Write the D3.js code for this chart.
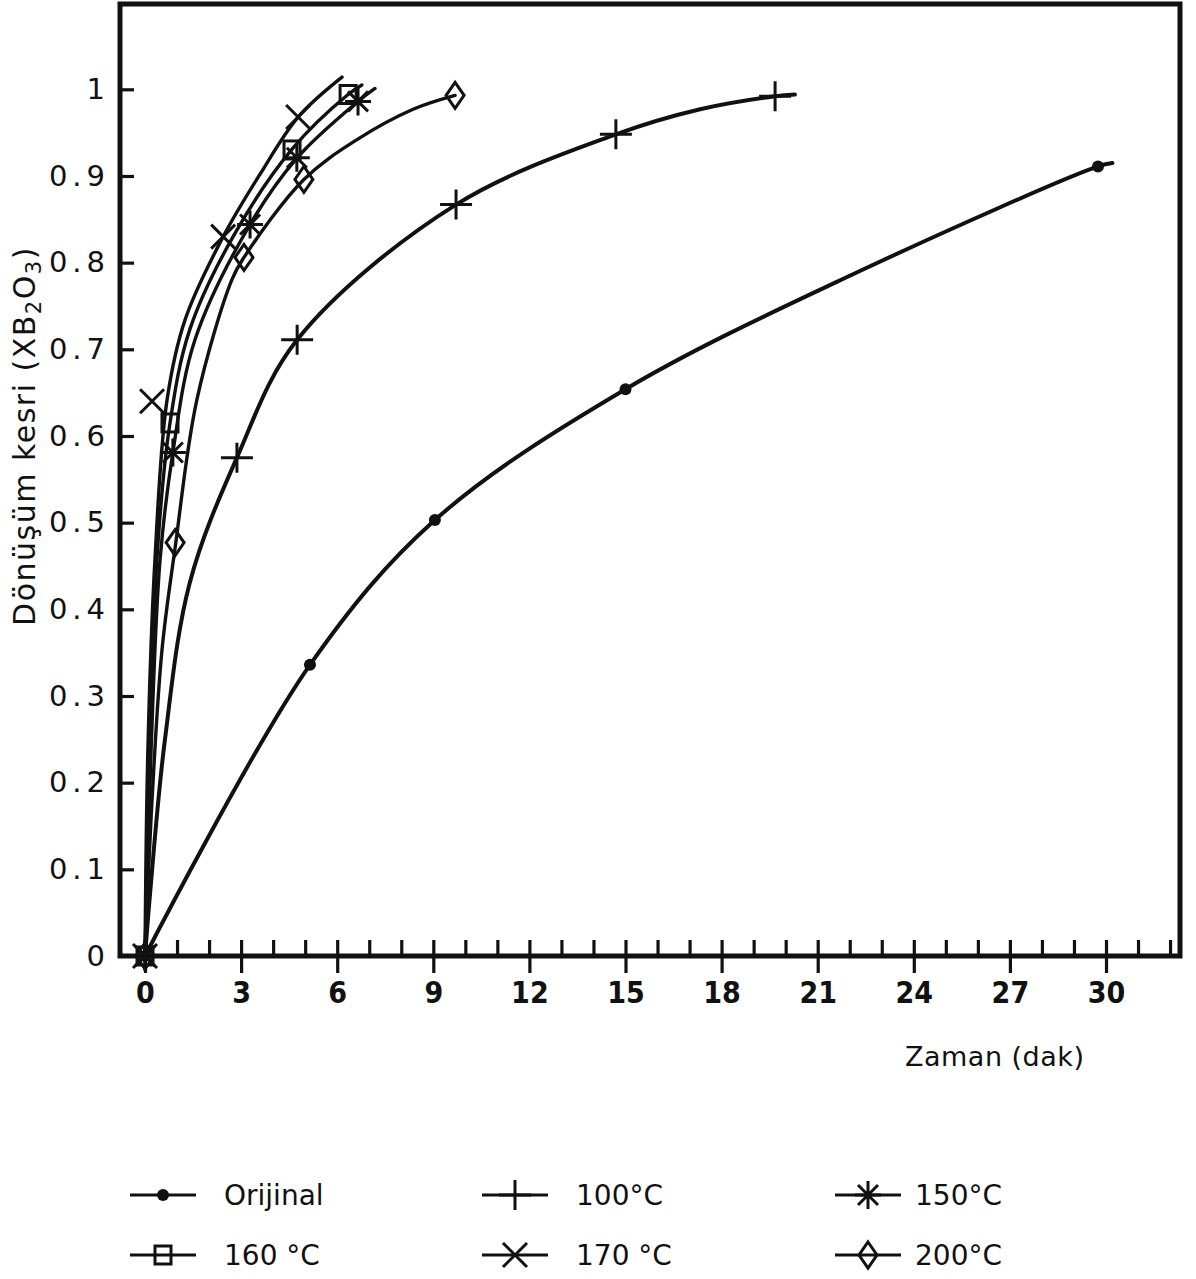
<!DOCTYPE html>
<html>
<head>
<meta charset="utf-8">
<script src="https://cdn.jsdelivr.net/npm/d3@7"></script>
<style>
  body { margin: 0; background: #fff; }
  svg { display: block; }
  text { fill: #111; }
</style>
</head>
<body>
<svg id="chart" width="1196" height="1279"></svg>
<script>
// series (legend order)
const seriesNames = ["Orijinal", "100°C", "150°C", "160 °C", "170 °C", "200°C"];
const markerTypes = ["dot", "plus", "star", "square", "cross", "diamond"];

// measured points: time (dak) / conversion fraction
const tOrijinal = [0, 5.15, 9.05, 15.0, 29.75];
const xOrijinal = [0, 0.336, 0.503, 0.654, 0.911];
const t100 = [0, 2.87, 4.75, 9.71, 14.7, 19.67];
const x100 = [0, 0.575, 0.711, 0.867, 0.948, 0.992];
const t150 = [0, 0.87, 3.28, 4.74, 6.65];
const x150 = [0, 0.581, 0.844, 0.921, 0.986];
const t160 = [0, 0.78, 4.59, 6.34];
const x160 = [0, 0.615, 0.93, 0.994];
const t170 = [0, 0.22, 2.44, 4.78];
const x170 = [0, 0.64, 0.83, 0.968];
const t200 = [0, 0.94, 3.09, 4.96, 9.68];
const x200 = [0, 0.477, 0.806, 0.896, 0.993];

// hand-drawn curves
const cOrijinalT = [0, 5.15, 9.05, 15.0, 22.3, 29.75, 30.2];
const cOrijinalX = [0, 0.336, 0.503, 0.654, 0.79, 0.911, 0.915];
const c100T = [0, 0.16, 0.62, 1.4, 2.87, 4.75, 9.71, 14.7, 17.33, 19.67, 20.29];
const c100X = [0, 0.073, 0.249, 0.431, 0.575, 0.711, 0.867, 0.948, 0.977, 0.992, 0.994];
const c150T = [0, 0.19, 0.47, 0.87, 1.56, 3.28, 4.75, 6.65, 7.18];
const c150X = [0, 0.238, 0.457, 0.581, 0.711, 0.844, 0.921, 0.986, 1.001];
const c160T = [0, 0.16, 0.37, 0.78, 1.4, 2.75, 4.59, 6.34, 6.77];
const c160X = [0, 0.238, 0.457, 0.615, 0.723, 0.83, 0.931, 0.994, 1.005];
const c170T = [0, 0.09, 0.31, 0.69, 1.25, 2.44, 3.59, 4.78, 6.15];
const c170X = [0, 0.238, 0.457, 0.642, 0.734, 0.83, 0.902, 0.968, 1.014];
const c200T = [0, 0.22, 0.53, 0.94, 1.62, 2.72, 3.09, 4.96, 6.62, 8.37, 9.68];
const c200X = [0, 0.18, 0.353, 0.471, 0.642, 0.781, 0.806, 0.896, 0.942, 0.977, 0.993];

const yTicks = [0, 0.1, 0.2, 0.3, 0.4, 0.5, 0.6, 0.7, 0.8, 0.9, 1];
const xMajorTicks = [0, 3, 6, 9, 12, 15, 18, 21, 24, 27, 30];

const pointsT = [tOrijinal, t100, t150, t160, t170, t200];
const pointsX = [xOrijinal, x100, x150, x160, x170, x200];
const curvesT = [cOrijinalT, c100T, c150T, c160T, c170T, c200T];
const curvesX = [cOrijinalX, c100X, c150X, c160X, c170X, c200X];

const svg = d3.select("#chart");
const ink = "#111";

const x = d3.scaleLinear().domain([0, 30]).range([145, 1106]);
const y = d3.scaleLinear().domain([0, 1]).range([956, 89.3]);

// frame
svg.append("rect")
  .attr("x", 120).attr("y", 4)
  .attr("width", 1060).attr("height", 952)
  .attr("fill", "none").attr("stroke", ink).attr("stroke-width", 5);

// x axis: minor ticks above, major ticks crossing
const minor = svg.append("g")
  .attr("transform", "translate(0,956)")
  .call(d3.axisTop(x).tickValues(d3.range(0, 33)).tickSize(16).tickFormat(""));
const major = svg.append("g")
  .attr("transform", "translate(0,956)")
  .call(d3.axisBottom(x).tickValues(xMajorTicks).tickSize(17).tickPadding(9));
[minor, major].forEach(g => {
  g.select(".domain").remove();
  g.selectAll("line").attr("stroke", ink).attr("stroke-width", 3.2);
});
major.selectAll("text")
  .attr("fill", ink)
  .style("font-family", "'DejaVu Sans Condensed', 'DejaVu Sans', sans-serif")
  .style("font-stretch", "condensed")
  .style("font-weight", "bold")
  .style("font-size", "30px");

// y axis: ticks inward, labels left
const yTickG = svg.append("g")
  .attr("transform", "translate(120,0)")
  .call(d3.axisRight(y).tickValues(yTicks.slice(1)).tickSize(14).tickFormat(""));
yTickG.select(".domain").remove();
yTickG.selectAll("line").attr("stroke", ink).attr("stroke-width", 3.2);

const yLab = svg.append("g")
  .attr("transform", "translate(110,0)")
  .call(d3.axisLeft(y).tickValues(yTicks).tickSize(0).tickPadding(0)
    .tickFormat(d => d === 0 ? "0" : d === 1 ? "1" : d3.format(".1f")(d)));
yLab.select(".domain").remove();
yLab.selectAll("text")
  .attr("fill", ink)
  .style("font-family", "'DejaVu Sans', sans-serif")
  .style("font-size", "29px")
  .style("letter-spacing", "5px");

// axis titles
svg.append("text")
  .attr("x", 905).attr("y", 1066)
  .style("font-family", "'DejaVu Sans', sans-serif")
  .style("font-size", "27px")
  .style("letter-spacing", "0.5px")
  .text("Zaman (dak)");

const yTitle = svg.append("text")
  .attr("transform", "translate(35,436) rotate(-90)")
  .attr("text-anchor", "middle")
  .style("font-family", "'DejaVu Sans', sans-serif")
  .style("font-size", "30px")
  .style("letter-spacing", "1.5px");
yTitle.append("tspan").text("Dönüşüm  kesri (XB");
yTitle.append("tspan").attr("baseline-shift", "-30%").style("font-size", "21px").text("2");
yTitle.append("tspan").text("O");
yTitle.append("tspan").attr("baseline-shift", "-30%").style("font-size", "21px").text("3");
yTitle.append("tspan").text(")");

// marker drawing
function drawMarker(g, type, cx, cy) {
  const m = g.append("g").attr("transform", `translate(${cx},${cy})`);
  const st = sel => sel.attr("fill", "none").attr("stroke", ink).attr("stroke-width", 3);
  if (type === "dot") {
    m.append("circle").attr("r", 6).attr("fill", ink);
  } else if (type === "plus") {
    st(m.append("path").attr("d", "M-16,0H16M0,-15V15"));
  } else if (type === "star") {
    st(m.append("path").attr("d", "M-13,0H13M0,-14V14M-10,-10L10,10M-10,10L10,-10"));
  } else if (type === "square") {
    st(m.append("rect").attr("x", -8).attr("y", -9).attr("width", 16).attr("height", 18).attr("fill", "#fff"));
  } else if (type === "cross") {
    st(m.append("path").attr("d", "M-12,-12L12,12M-12,12L12,-12"));
  } else if (type === "diamond") {
    st(m.append("path").attr("d", "M0,-13L9,0L0,13L-9,0Z").attr("fill", "#fff"));
  }
}

const line = d3.line()
  .x(d => x(d[0]))
  .y(d => y(d[1]))
  .curve(d3.curveCatmullRom.alpha(0.5));

const plot = svg.append("g");
seriesNames.forEach((name, i) => {
  const pts = curvesT[i].map((t, j) => [t, curvesX[i][j]]);
  plot.append("path")
    .datum(pts)
    .attr("fill", "none")
    .attr("stroke", ink)
    .attr("stroke-width", i === 0 || i === 1 ? 4 : 3.4)
    .attr("stroke-linecap", "round")
    .attr("d", line);
});
seriesNames.forEach((name, i) => {
  pointsT[i].forEach((t, j) => {
    drawMarker(plot, markerTypes[i], x(t), y(pointsX[i][j]));
  });
});

// legend
const legCols = [130, 482, 835];
const legRows = [1195, 1255];
const leg = svg.append("g");
seriesNames.forEach((name, i) => {
  const lx = legCols[i % 3];
  const ly = legRows[Math.floor(i / 3)];
  leg.append("line")
    .attr("x1", lx).attr("x2", lx + 66)
    .attr("y1", ly).attr("y2", ly)
    .attr("stroke", ink).attr("stroke-width", 3);
  drawMarker(leg, markerTypes[i], lx + 33, ly);
  leg.append("text")
    .attr("x", lx + (i % 3 === 2 ? 80 : 94))
    .attr("y", ly + 10)
    .style("font-family", "'DejaVu Sans', sans-serif")
    .style("font-size", "28px")
    .text(name);
});
</script>
</body>
</html>
